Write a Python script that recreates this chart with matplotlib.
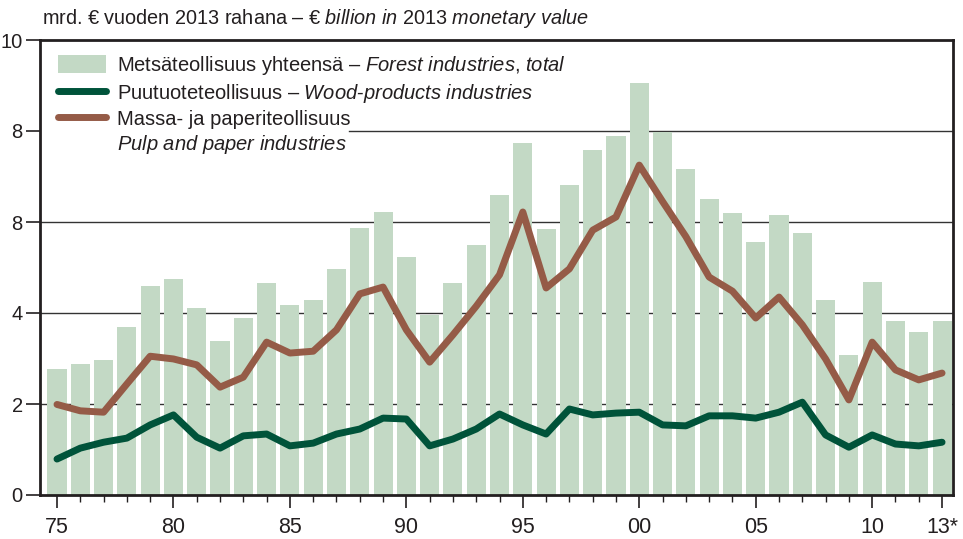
import numpy as np
import matplotlib
matplotlib.use("Agg")
import matplotlib.pyplot as plt
from matplotlib.lines import Line2D
from matplotlib.patches import Patch

plt.rcParams['font.family'] = ['Liberation Sans', 'DejaVu Sans']
plt.rcParams['mathtext.fontset'] = 'custom'
plt.rcParams['mathtext.rm'] = 'Liberation Sans'
plt.rcParams['mathtext.it'] = 'Liberation Sans:italic'

# data (billion EUR, 2013 money)
years = np.arange(1975, 2014)
forest_total = [2.77, 2.88, 2.97, 3.69, 4.59, 4.75, 4.11, 3.38, 3.89, 4.66,
                4.18, 4.29, 4.97, 5.87, 6.22, 5.23, 3.96, 4.66, 5.49, 6.59,
                7.74, 5.85, 6.81, 7.58, 7.89, 9.05, 7.98, 7.16, 6.51, 6.20,
                5.56, 6.15, 5.76, 4.29, 3.08, 4.68, 3.82, 3.58, 3.82]
wood_products = [0.79, 1.03, 1.16, 1.25, 1.54, 1.76, 1.27, 1.03, 1.30, 1.34,
                 1.08, 1.14, 1.34, 1.45, 1.69, 1.67, 1.08, 1.23, 1.45, 1.78,
                 1.54, 1.34, 1.89, 1.76, 1.80, 1.82, 1.54, 1.52, 1.74, 1.74,
                 1.69, 1.82, 2.04, 1.32, 1.05, 1.32, 1.12, 1.08, 1.16]
pulp_paper = [1.99, 1.85, 1.82, 2.44, 3.05, 2.99, 2.86, 2.37, 2.59, 3.36,
              3.12, 3.16, 3.63, 4.42, 4.57, 3.63, 2.92, 3.52, 4.15, 4.84,
              6.22, 4.55, 4.97, 5.82, 6.11, 7.25, 6.45, 5.68, 4.79, 4.48,
              3.89, 4.35, 3.74, 2.99, 2.09, 3.36, 2.75, 2.53, 2.68]

xtick_years = [1975, 1980, 1985, 1990, 1995, 2000, 2005, 2010, 2013]
xtick_labels = ['75', '80', '85', '90', '95', '00', '05', '10', '13*']
ytick_vals = [0, 2, 4, 6, 8, 10]
ytick_labels = ['0', '2', '4', '8', '8', '10']  # as printed in the original (6 shows as 8)

c_bar = '#c3d9c5'
c_wood = '#00533a'
c_pulp = '#955b47'
c_axis = '#231f20'

fig = plt.figure(figsize=(9.63, 5.39), dpi=100)
ax = fig.add_axes([40/963, 44/539, 913/963, 455/539])

# gridlines behind everything, the top one stops where the legend ends
for v in [2, 4, 6]:
    ax.axhline(v, color='#333333', lw=1.0, zorder=0)
ax.axhline(8, xmin=0.338, color='#333333', lw=1.0, zorder=0)

ax.bar(years, forest_total, width=0.82, color=c_bar, zorder=1)
ax.plot(years, wood_products, color=c_wood, lw=5, solid_capstyle='round',
        solid_joinstyle='round', zorder=3)
ax.plot(years, pulp_paper, color=c_pulp, lw=5, solid_capstyle='round',
        solid_joinstyle='round', zorder=3)

ax.set_xlim(1974.27, 2013.47)
ax.set_ylim(0, 10)

ax.set_xticks(xtick_years)
ax.set_xticklabels(xtick_labels, fontsize=15.5, color=c_axis)
ax.set_xticks(years, minor=True)
ax.tick_params(axis='x', which='major', length=9, width=1.2, pad=7, color=c_axis)
ax.tick_params(axis='x', which='minor', length=5, width=1.0, color=c_axis)
ax.set_yticks(ytick_vals)
ax.set_yticklabels(ytick_labels, fontsize=14.5, color=c_axis)
ax.tick_params(axis='y', length=10, width=1.2, pad=2.5, color=c_axis)

for s in ax.spines.values():
    s.set_linewidth(2)
    s.set_color(c_axis)

handles = [Patch(facecolor=c_bar, edgecolor='none'),
           Line2D([], [], color=c_wood, lw=5, solid_capstyle='round'),
           Line2D([], [], color=c_pulp, lw=5, solid_capstyle='round'),
           Line2D([], [], color='none')]
labels = [r'Metsäteollisuus yhteensä – $\mathit{Forest\ industries{,}\ total}$',
          r'Puutuoteteollisuus – $\mathit{Wood}$-$\mathit{products\ industries}$',
          'Massa- ja paperiteollisuus',
          r'$\mathit{Pulp\ and\ paper\ industries}$']
leg = ax.legend(handles, labels, loc='upper left', bbox_to_anchor=(0.004, 1.0),
                frameon=False, fontsize=14.5, handlelength=2.4, handleheight=1.0,
                handletextpad=0.55, labelspacing=0.22, borderaxespad=0.3,
                labelcolor=c_axis)

fig.text(42/963, 1 - 18/539, r'mrd. € vuoden 2013 rahana – € $\mathit{billion\ in\ 2013\ monetary\ value}$',
         fontsize=14.3, va='center', ha='left', color=c_axis)

fig.savefig('out.png', dpi=100)
